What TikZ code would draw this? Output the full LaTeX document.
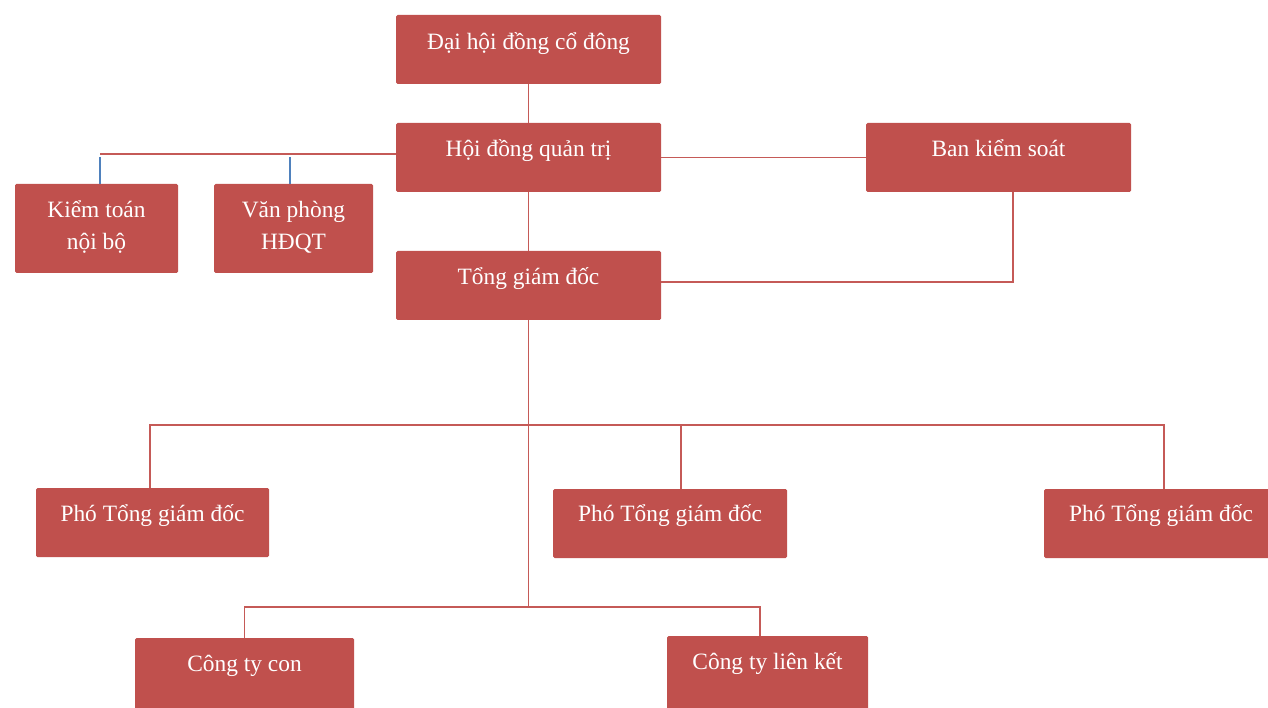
\documentclass[tikz,border=0pt]{standalone}
\usepackage{fontspec}
\setmainfont{Liberation Serif}
\usetikzlibrary{calc}
\definecolor{boxred}{HTML}{C0504D}
\definecolor{linered}{HTML}{C55A57}
\definecolor{tickblue}{HTML}{4F81BD}
\begin{document}
\begin{tikzpicture}[x=1pt,y=-1pt,
  box/.style={rectangle, fill=boxred, rounded corners=1.5pt, inner sep=0pt},
  txt/.style={text=white, font=\fontsize{23.4}{32}\selectfont, inner sep=0pt, align=center, anchor=base},
  conn/.style={draw=linered, line width=1.4pt},
  tick/.style={draw=tickblue, line width=1.4pt}]
\useasboundingbox (0,0) rectangle (1268,708);
% boxes
\node[box, minimum width=265pt, minimum height=69pt] (dh) at (528.5,49.5) {};
\node[box, minimum width=265pt, minimum height=69pt] (hd) at (528.5,157.5) {};
\node[box, minimum width=265pt, minimum height=69pt] (bks) at (998.5,157.5) {};
\node[box, minimum width=163pt, minimum height=89pt] (kt) at (96.5,228.5) {};
\node[box, minimum width=159pt, minimum height=89pt] (vp) at (293.5,228.5) {};
\node[box, minimum width=265pt, minimum height=69pt] (tgd) at (528.5,285.5) {};
\node[box, minimum width=233pt, minimum height=69pt] (p1) at (152.5,522.5) {};
\node[box, minimum width=234pt, minimum height=69pt] (p2) at (670,523.5) {};
\node[box, minimum width=234pt, minimum height=69pt] (p3) at (1161,523.5) {};
\node[box, minimum width=219pt, minimum height=75pt] (ctc) at (244.5,675.5) {};
\node[box, minimum width=201pt, minimum height=77pt] (ctlk) at (767.5,674.5) {};
% texts
\node[txt] (dht) at ($(dh.north)+(0,35)$) {Đại hội đồng cổ đông};
\node[txt] (hdt) at ($(hd.north)+(0,34)$) {Hội đồng quản trị};
\node[txt] (bkst) at ($(bks.north)+(0,34)$) {Ban kiểm soát};
\node[txt] (ktt) at ($(kt.north)+(0,66)$) {Kiểm toán\\nội bộ};
\node[txt] (vpt) at ($(vp.north)+(0,66)$) {Văn phòng\\HĐQT};
\node[txt] (tgdt) at ($(tgd.north)+(0,34)$) {Tổng giám đốc};
\node[txt] (p1t) at ($(p1.north)+(0,34)$) {Phó Tổng giám đốc};
\node[txt] (p2t) at ($(p2.north)+(0,33)$) {Phó Tổng giám đốc};
\node[txt] (p3t) at ($(p3.north)+(0,33)$) {Phó Tổng giám đốc};
\node[txt] (ctct) at ($(ctc.north)+(0,34)$) {Công ty con};
\node[txt] (ctlkt) at ($(ctlk.north)+(0,34)$) {Công ty liên kết};
% coordinates
\coordinate (l1) at (100,154);
\coordinate (t1) at (100,157);
\coordinate (t2) at (290,157);
\coordinate (b1) at (1013,282);
\coordinate (j2) at (528.5,607);
\coordinate (h1) at (150,425);
\coordinate (h2) at (681,425);
\coordinate (h3) at (1164,425);
\coordinate (c1) at (244.5,607);
\coordinate (c2) at (760,607);
% connectors
\draw[conn] (dh.south) -- (hd.north);
\draw[conn] (hd.west |- l1) -- (l1);
\draw[tick] (t1) -- (t1 |- kt.north);
\draw[tick] (t2) -- (t2 |- vp.north);
\draw[conn] (hd.east) -- (bks.west);
\draw[conn] (hd.south) -- (tgd.north);
\draw[conn] (b1 |- bks.south) -- (b1) -- (tgd.east |- b1);
\draw[conn] (tgd.south) -- (j2);
\draw[conn] (h1 |- p1.north) -- (h1) -- (h3) -- (h3 |- p3.north);
\draw[conn] (h2) -- (h2 |- p2.north);
\draw[conn] (c1 |- ctc.north) -- (c1) -- (c2) -- (c2 |- ctlk.north);
\end{tikzpicture}
\end{document}
